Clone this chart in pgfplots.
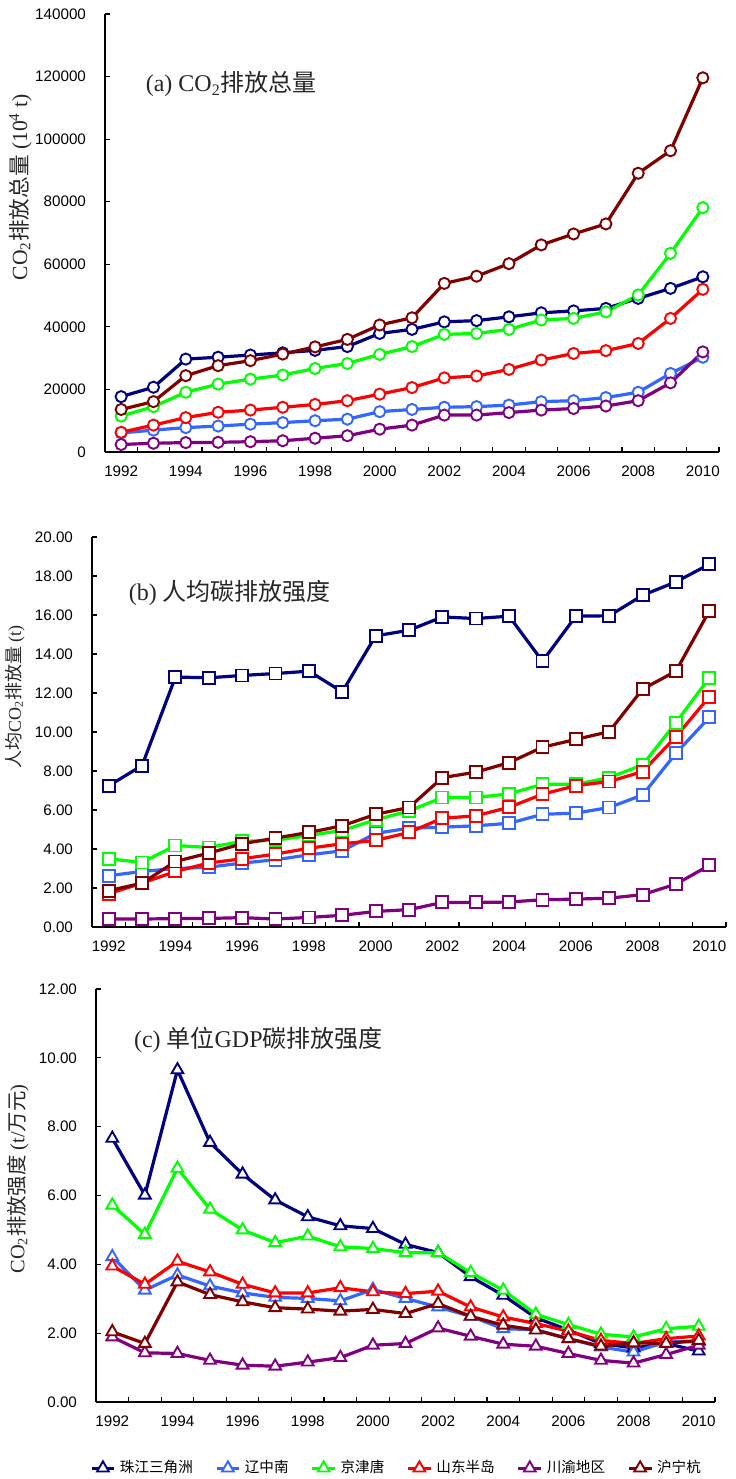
\documentclass[border=0pt]{standalone}
\usepackage{pgfplots}
\pgfplotsset{compat=1.18}
\usepackage{pgfplotstable}
\usepackage{fontspec}
\setmainfont{Liberation Serif}
\newfontfamily\arial{Liberation Sans}
\newfontfamily\cjk{Noto Sans CJK SC}

\definecolor{c1}{RGB}{0,0,128}
\definecolor{c2}{RGB}{51,102,255}
\definecolor{c3}{RGB}{0,255,0}
\definecolor{c4}{RGB}{255,0,0}
\definecolor{c5}{RGB}{128,0,128}
\definecolor{c6}{RGB}{128,0,0}

\pgfplotstableread{
year c1 c2 c3 c4 c5 c6
1992 17700 6100 11500 6300 2400 13600
1993 20700 7000 14500 8600 2800 16100
1994 29700 7800 19100 11000 3000 24400
1995 30300 8300 21700 12700 3100 27600
1996 31000 8900 23300 13400 3300 29200
1997 31700 9400 24600 14300 3600 31300
1998 32500 10000 26700 15200 4400 33600
1999 33700 10500 28300 16400 5200 36000
2000 37900 12900 31200 18500 7300 40600
2001 39200 13600 33700 20600 8600 42900
2002 41600 14300 37600 23700 11800 53900
2003 42000 14500 37900 24300 11800 56200
2004 43200 15000 39200 26400 12600 60200
2005 44500 16100 42200 29400 13400 66200
2006 45100 16400 42700 31500 13900 69700
2007 45900 17400 44800 32400 14700 72900
2008 49100 19100 50200 34700 16400 89100
2009 52300 25100 63500 42700 22100 96300
2010 56000 30300 78100 52000 32000 119600
}\dataA

\pgfplotstableread{
year c1 c2 c3 c4 c5 c6
1992 7.24 2.63 3.50 1.71 0.41 1.86
1993 8.28 2.85 3.31 2.25 0.41 2.25
1994 12.82 3.00 4.18 2.85 0.43 3.36
1995 12.78 3.07 4.08 3.28 0.44 3.79
1996 12.90 3.28 4.39 3.50 0.48 4.27
1997 13.00 3.45 4.45 3.74 0.41 4.56
1998 13.12 3.70 4.70 4.04 0.49 4.85
1999 12.06 3.91 4.95 4.27 0.60 5.19
2000 14.93 4.80 5.50 4.44 0.80 5.78
2001 15.22 5.07 5.95 4.85 0.89 6.13
2002 15.90 5.12 6.64 5.58 1.26 7.66
2003 15.82 5.19 6.64 5.70 1.26 7.94
2004 15.94 5.32 6.83 6.14 1.28 8.43
2005 13.63 5.78 7.32 6.81 1.40 9.22
2006 15.94 5.84 7.32 7.25 1.43 9.62
2007 15.96 6.13 7.66 7.46 1.48 10.02
2008 17.01 6.77 8.31 7.97 1.66 12.20
2009 17.70 8.91 10.48 9.76 2.20 13.12
2010 18.60 10.75 12.78 11.81 3.16 16.21
}\dataB

\pgfplotstableread{
year c1 c2 c3 c4 c5 c6
1992 7.66 4.22 5.72 3.95 1.89 2.04
1993 6.01 3.25 4.87 3.42 1.43 1.70
1994 9.65 3.69 6.79 4.09 1.41 3.49
1995 7.54 3.37 5.60 3.78 1.21 3.12
1996 6.62 3.17 5.00 3.42 1.07 2.91
1997 5.87 3.04 4.63 3.17 1.04 2.74
1998 5.38 3.01 4.82 3.17 1.16 2.70
1999 5.12 2.94 4.51 3.32 1.29 2.64
2000 5.04 3.27 4.46 3.20 1.65 2.69
2001 4.58 3.01 4.34 3.15 1.70 2.57
2002 4.34 2.76 4.34 3.22 2.15 2.86
2003 3.64 2.49 3.76 2.76 1.91 2.49
2004 3.10 2.13 3.25 2.47 1.68 2.23
2005 2.45 2.10 2.55 2.28 1.62 2.09
2006 2.09 1.84 2.25 2.06 1.41 1.84
2007 1.70 1.60 1.97 1.79 1.21 1.62
2008 1.57 1.45 1.89 1.70 1.13 1.72
2009 1.70 1.75 2.13 1.84 1.38 1.70
2010 1.48 1.75 2.20 1.92 1.65 1.79
}\dataC

\pgfplotsset{
  myaxis/.style={
    scale only axis,
    axis lines*=left,
    axis line style={line width=0.8pt,black},
    xmin=1991.5, xmax=2010.5,
    xtick={1991.5,1992.5,1993.5,1994.5,1995.5,1996.5,1997.5,1998.5,1999.5,2000.5,2001.5,2002.5,2003.5,2004.5,2005.5,2006.5,2007.5,2008.5,2009.5,2010.5},
    xticklabels={},
    extra x ticks={1992,1994,1996,1998,2000,2002,2004,2006,2008,2010},
    extra x tick labels={1992,1994,1996,1998,2000,2002,2004,2006,2008,2010},
    extra tick style={major tick length=0pt},
    major tick length=2.5pt,
    tick align=inside,
    tick style={line width=0.6pt,black},
    scaled y ticks=false,
    scaled x ticks=false,
    ticklabel style={font=\arial\fontsize{7.6}{9}\selectfont},
    /pgf/number format/assume math mode=true,
    yticklabel style={xshift=-6pt},
    xticklabel style={yshift=-3.5pt},
    clip=false,
    every axis plot/.append style={line width=1.6pt, mark options={fill=white,line width=0.95pt,solid}},
  },
  s1/.style={color=c1},
  s2/.style={color=c2},
  s3/.style={color=c3},
  s4/.style={color=c4},
  s5/.style={color=c5},
  s6/.style={color=c6},
}

\begin{document}
\begin{tikzpicture}
\path[use as bounding box] (0pt,0pt) rectangle (367.5pt,-739.5pt);

% (a)
\begin{axis}[myaxis, at={(52.5pt,-226pt)}, anchor=south west,
  width=307pt, height=219pt,
  ymin=0, ymax=140000,
  ytick={0,20000,40000,60000,80000,100000,120000,140000},
  yticklabels={0,20000,40000,60000,80000,100000,120000,140000},
  mark size=2.8pt]
\addplot[s1, mark=*] table[x=year,y=c1] {\dataA};
\addplot[s2, mark=*] table[x=year,y=c2] {\dataA};
\addplot[s3, mark=*] table[x=year,y=c3] {\dataA};
\addplot[s4, mark=*] table[x=year,y=c4] {\dataA};
\addplot[s5, mark=*] table[x=year,y=c5] {\dataA};
\addplot[s6, mark=*] table[x=year,y=c6] {\dataA};
\node[anchor=west, font=\fontsize{12}{14}\selectfont, color=black!85] at (rel axis cs:0.055,0.84) {(a) CO\textsubscript{2}{\cjk 排放总量}};
\node[rotate=90, font=\fontsize{10.8}{12}\selectfont, color=black!85] at (axis description cs:-0.138,0.605) {CO\textsubscript{2}{\cjk 排放总量} (10\textsuperscript{4} t)};
\end{axis}

% (b)
\begin{axis}[myaxis, at={(46pt,-463.5pt)}, anchor=south west,
  width=317pt, height=195pt,
  ymin=0, ymax=20,
  ytick={0,2,4,6,8,10,12,14,16,18,20},
  yticklabels={0.00,2.00,4.00,6.00,8.00,10.00,12.00,14.00,16.00,18.00,20.00},
  mark size=3pt]
\addplot[s1, mark=square*] table[x=year,y=c1] {\dataB};
\addplot[s2, mark=square*] table[x=year,y=c2] {\dataB};
\addplot[s3, mark=square*] table[x=year,y=c3] {\dataB};
\addplot[s4, mark=square*] table[x=year,y=c4] {\dataB};
\addplot[s5, mark=square*] table[x=year,y=c5] {\dataB};
\addplot[s6, mark=square*] table[x=year,y=c6] {\dataB};
\node[anchor=west, font=\fontsize{12}{14}\selectfont, color=black!85] at (rel axis cs:0.047,0.856) {(b) {\cjk 人均碳排放强度}};
\node[rotate=90, font=\fontsize{9}{11}\selectfont, color=black!85] at (axis description cs:-0.121,0.59) {{\cjk 人均}CO\textsubscript{2}{\cjk 排放量} (t)};
\end{axis}

% (c)
\begin{axis}[myaxis, at={(48pt,-701pt)}, anchor=south west,
  width=309.5pt, height=206.5pt,
  ymin=0, ymax=12,
  ytick={0,2,4,6,8,10,12},
  yticklabels={0.00,2.00,4.00,6.00,8.00,10.00,12.00},
  mark size=3.4pt,
  legend columns=6,
  legend style={at={(0.487,-0.16)}, anchor=center, draw=none, fill=none,
    font=\cjk\fontsize{7.3}{9}\selectfont,
    /tikz/every even column/.append style={column sep=9pt}},
  legend image code/.code={\draw[mark repeat=2,mark phase=2] plot coordinates {(0cm,0cm) (0.2cm,0cm) (0.4cm,0cm)};}]
\addplot[s1, mark=triangle*] table[x=year,y=c1] {\dataC};
\addplot[s2, mark=triangle*] table[x=year,y=c2] {\dataC};
\addplot[s3, mark=triangle*] table[x=year,y=c3] {\dataC};
\addplot[s4, mark=triangle*] table[x=year,y=c4] {\dataC};
\addplot[s5, mark=triangle*] table[x=year,y=c5] {\dataC};
\addplot[s6, mark=triangle*] table[x=year,y=c6] {\dataC};
\legend{珠江三角洲,辽中南,京津唐,山东半岛,川渝地区,沪宁杭}
\node[anchor=west, font=\fontsize{12}{14}\selectfont, color=black!85] at (rel axis cs:0.05,0.877) {(c) {\cjk 单位}GDP{\cjk 碳排放强度}};
\node[rotate=90, font=\fontsize{10.2}{12}\selectfont, color=black!85] at (axis description cs:-0.126,0.54) {CO\textsubscript{2}{\cjk 排放强度} (t/{\cjk 万元})};
\end{axis}
\end{tikzpicture}
\end{document}
